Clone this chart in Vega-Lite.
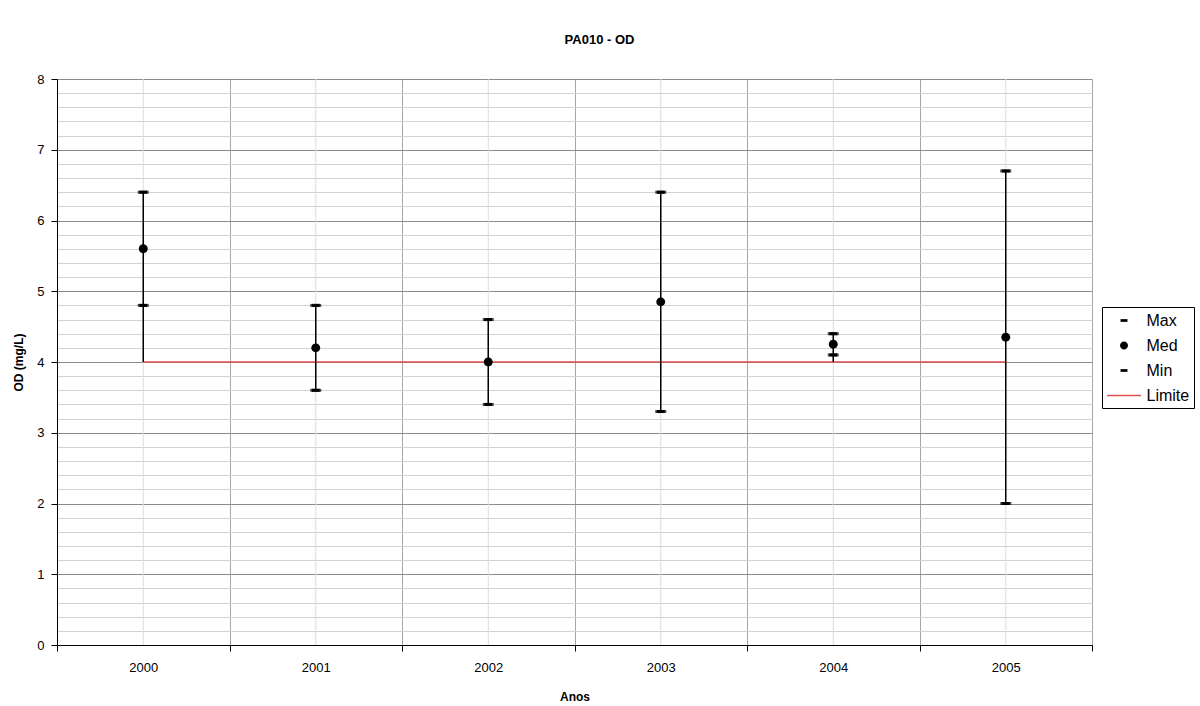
{
  "$schema": "https://vega.github.io/schema/vega-lite/v6.json",
  "width": 1035,
  "height": 566,
  "autosize": {"type": "none"},
  "padding": {"left": 57, "top": 79, "right": 108, "bottom": 61},
  "background": "white",
  "title": {"text": "PA010 - OD", "font": "Liberation Sans", "fontSize": 13, "fontWeight": "bold", "color": "black", "anchor": "middle", "offset": 26, "dx": 25},
  "config": {
    "view": {"stroke": null},
    "font": "Liberation Sans",
    "axis": {"labelFont": "Liberation Sans", "titleFont": "Liberation Sans", "labelColor": "black", "titleColor": "black", "domainColor": "black", "tickColor": "black", "labelFontSize": 13, "titleFontSize": 12, "titleFontWeight": "bold"},
    "legend": {"orient": "none", "legendX": 1045, "legendY": 228, "padding": 4, "strokeColor": "black", "fillColor": "white", "labelFont": "Liberation Sans", "labelFontSize": 16, "labelColor": "black", "symbolOffset": 8.5, "labelOffset": 13, "rowPadding": 7, "symbolSize": 289}
  },
  "data": {"values": [
    {"year": "2000", "Max": 6.4, "Med": 5.6, "Min": 4.8, "Limite": 4},
    {"year": "2001", "Max": 4.8, "Med": 4.2, "Min": 3.6, "Limite": 4},
    {"year": "2002", "Max": 4.6, "Med": 4.0, "Min": 3.4, "Limite": 4},
    {"year": "2003", "Max": 6.4, "Med": 4.85, "Min": 3.3, "Limite": 4},
    {"year": "2004", "Max": 4.4, "Med": 4.25, "Min": 4.1, "Limite": 4},
    {"year": "2005", "Max": 6.7, "Med": 4.35, "Min": 2.0, "Limite": 4}
  ]},
  "encoding": {
    "x": {
      "field": "year", "type": "ordinal",
      "scale": {"type": "band", "paddingInner": 0, "paddingOuter": 0},
      "axis": {"title": "Anos", "labelAngle": 0, "tickBand": "extent", "grid": true, "gridColor": "#a6a6a6", "tickSize": 6, "labelPadding": 10, "titlePadding": 17}
    }
  },
  "layer": [
    {
      "mark": {"type": "rule", "color": "#dcdcdc", "strokeWidth": 1},
      "encoding": {}
    },
    {
      "mark": {"type": "line", "color": "#e05050", "strokeWidth": 1.5},
      "encoding": {
        "y": {"field": "Limite", "type": "quantitative", "title": "OD (mg/L)",
          "scale": {"domain": [0, 8], "nice": false, "zero": true},
          "axis": {
            "values": [0, 0.2, 0.4, 0.6, 0.8, 1, 1.2, 1.4, 1.6, 1.8, 2, 2.2, 2.4, 2.6, 2.8, 3, 3.2, 3.4, 3.6, 3.8, 4, 4.2, 4.4, 4.6, 4.8, 5, 5.2, 5.4, 5.6, 5.8, 6, 6.2, 6.4, 6.6, 6.8, 7, 7.2, 7.4, 7.6, 7.8, 8],
            "tickCount": 100,
            "labelOverlap": false,
            "labelExpr": "abs(datum.value - round(datum.value)) < 0.001 ? '' + round(datum.value) : ''",
            "grid": true,
            "gridColor": {"condition": {"test": "abs(datum.value - round(datum.value)) < 0.001", "value": "#8c8c8c"}, "value": "#d2d2d2"},
            "tickOpacity": {"condition": {"test": "abs(datum.value - round(datum.value)) < 0.001", "value": 1}, "value": 0},
            "tickSize": 6, "labelPadding": 7, "titlePadding": 11
          }
        }
      }
    },
    {
      "transform": [{"calculate": "min(datum.Min, datum.Limite)", "as": "lo"}],
      "mark": {"type": "rule", "color": "black", "strokeWidth": 1.5},
      "encoding": {
        "y": {"field": "Max", "type": "quantitative", "title": "OD (mg/L)"},
        "y2": {"field": "lo"}
      }
    },
    {
      "transform": [{"fold": ["Max", "Med", "Min"], "as": ["series", "value"]}],
      "mark": {"type": "point", "filled": true, "opacity": 1, "size": 361},
      "encoding": {
        "y": {"field": "value", "type": "quantitative", "title": "OD (mg/L)"},
        "shape": {"field": "series", "type": "nominal",
          "scale": {"domain": ["Max", "Med", "Min", "Limite"], "range": ["M-0.41,-0.16H0.41V0.16H-0.41Z", "M-0.47,0A0.47,0.47 0 1,0 0.47,0A0.47,0.47 0 1,0 -0.47,0Z", "M-0.41,-0.16H0.41V0.16H-0.41Z", "M-2,-0.09H2V0.09H-2Z"]},
          "legend": {"title": null, "encode": {"symbols": {"update": {
            "size": {"value": 289},
            "opacity": {"value": 1}
          }}}}
        },
        "color": {"field": "series", "type": "nominal",
          "scale": {"domain": ["Max", "Med", "Min", "Limite"], "range": ["black", "black", "black", "#e05050"]},
          "legend": {"title": null, "encode": {"symbols": {"update": {
            "size": {"value": 289},
            "opacity": {"value": 1}
          }}}}
        }
      }
    },
    {
      "transform": [{"fold": ["Max", "Min"], "as": ["series", "value"]}],
      "mark": {"type": "tick", "color": "black", "thickness": 3, "size": 11},
      "encoding": {
        "y": {"field": "value", "type": "quantitative", "title": "OD (mg/L)"}
      }
    }
  ]
}
